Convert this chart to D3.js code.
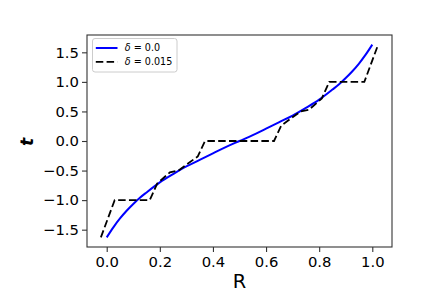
<!DOCTYPE html>
<meta charset="utf-8">
<style>
body { margin: 0; background: #fff; }
text { font-family: "DejaVu Sans", sans-serif; fill: #000; }
</style>
<svg width="436" height="291"></svg>
<script src="https://d3js.org/d3.v7.min.js"></script>
<script>
// smooth curve, delta = 0.0
const smoothR = [0, 0.025, 0.05, 0.075, 0.1, 0.125, 0.15, 0.2, 0.25, 0.3, 0.35, 0.4, 0.45, 0.5,
                 0.55, 0.6, 0.65, 0.7, 0.75, 0.8, 0.85, 0.875, 0.9, 0.925, 0.95, 0.975, 1]
const smoothT = [-1.63, -1.46, -1.31, -1.18, -1.065, -0.96, -0.87, -0.70, -0.56, -0.43, -0.32, -0.21, -0.10, 0,
                 0.10, 0.21, 0.32, 0.43, 0.56, 0.70, 0.87, 0.96, 1.065, 1.18, 1.31, 1.46, 1.63]

// stepped curve, delta = 0.015
const stepR = [-0.022, 0.03, 0.162, 0.19, 0.238, 0.27, 0.343, 0.37, 0.63, 0.657, 0.73, 0.762, 0.81, 0.838, 0.97, 1.022]
const stepT = [-1.63, -1.0, -1.0, -0.72, -0.53, -0.5, -0.26, 0, 0, 0.26, 0.5, 0.53, 0.72, 1.0, 1.0, 1.63]

const xTicks = [0, 0.2, 0.4, 0.6, 0.8, 1.0]
const yTicks = [-1.5, -1.0, -0.5, 0, 0.5, 1.0, 1.5]
const legendLabels = ["0.0", "0.015"]

const svg = d3.select("svg"),
    margin = {top: 35, right: 44, bottom: 44, left: 87},
    width = 436 - margin.left - margin.right,
    height = 291 - margin.top - margin.bottom,
    g = svg.append("g").attr("transform", `translate(${margin.left},${margin.top})`)

const smooth = smoothR.map((r, i) => [r, smoothT[i]])
const step = stepR.map((r, i) => [r, stepT[i]])

// matplotlib-style 5% margins
const allR = smoothR.concat(stepR), allT = smoothT.concat(stepT)
const rPad = (d3.max(allR) - d3.min(allR)) * 0.05
const tPad = (d3.max(allT) - d3.min(allT)) * 0.05

const x = d3.scaleLinear()
    .domain([d3.min(allR) - rPad, d3.max(allR) + rPad])
    .range([0, width])
const y = d3.scaleLinear()
    .domain([d3.min(allT) - tPad, d3.max(allT) + tPad])
    .range([height, 0])

const line = d3.line().x(d => x(d[0])).y(d => y(d[1]))

g.append("path")
    .datum(smooth)
    .attr("fill", "none")
    .attr("stroke", "#0000ff")
    .attr("stroke-width", 2)
    .attr("d", line.curve(d3.curveMonotoneX))

g.append("path")
    .datum(step)
    .attr("fill", "none")
    .attr("stroke", "#000")
    .attr("stroke-width", 1.8)
    .attr("stroke-dasharray", "7.5,3.3")
    .attr("d", line.curve(d3.curveLinear))

// axes
const xAxis = g.append("g")
    .attr("transform", `translate(0,${height})`)
    .call(d3.axisBottom(x).tickValues(xTicks).tickFormat(d3.format(".1f")).tickSize(5).tickPadding(4))
const yAxis = g.append("g")
    .call(d3.axisLeft(y).tickValues(yTicks).tickFormat(d => d3.format(".1f")(d).replace("-", "\u2212")).tickSize(5).tickPadding(3))

for (const ax of [xAxis, yAxis]) {
  ax.select(".domain").remove()
  ax.selectAll("line").attr("stroke", "#333").attr("stroke-width", 1.1)
  ax.selectAll("text").style("font-size", "14.8px").style("font-family", "DejaVu Sans")
}

// frame
g.append("rect")
    .attr("width", width)
    .attr("height", height)
    .attr("fill", "none")
    .attr("stroke", "#333")
    .attr("stroke-width", 1.1)

// axis labels
svg.append("text")
    .attr("x", margin.left + width / 2)
    .attr("y", 287.5)
    .attr("text-anchor", "middle")
    .style("font-size", "19.4px")
    .text("R")

svg.append("text")
    .attr("transform", `translate(33,${margin.top + height / 2 + 1}) rotate(-90)`)
    .attr("text-anchor", "middle")
    .style("font-size", "17px")
    .style("font-style", "italic")
    .style("font-weight", "bold")
    .text("t")

// legend
const legend = svg.append("g").attr("transform", "translate(92.5,38.5)")
legend.append("rect")
    .attr("width", 84.5)
    .attr("height", 33.5)
    .attr("rx", 2.5)
    .attr("fill", "#fff")
    .attr("fill-opacity", 0.8)
    .attr("stroke", "#ccc")
    .attr("stroke-width", 1)

const styles = [{stroke: "#0000ff", dash: null}, {stroke: "#000", dash: "7.5,3.3"}]
legendLabels.forEach((lab, i) => {
  const row = legend.append("g").attr("transform", `translate(0,${9.5 + i * 13.8})`)
  row.append("line")
      .attr("x1", 3.3).attr("x2", 25)
      .attr("stroke", styles[i].stroke)
      .attr("stroke-width", i ? 1.8 : 2)
      .attr("stroke-dasharray", styles[i].dash)
  const t = row.append("text")
      .attr("x", 32.3)
      .attr("y", 3.4)
      .style("font-size", "9.6px")
  t.append("tspan").style("font-style", "italic").text("\u03b4")
  t.append("tspan").text(" = " + lab)
})
</script>
